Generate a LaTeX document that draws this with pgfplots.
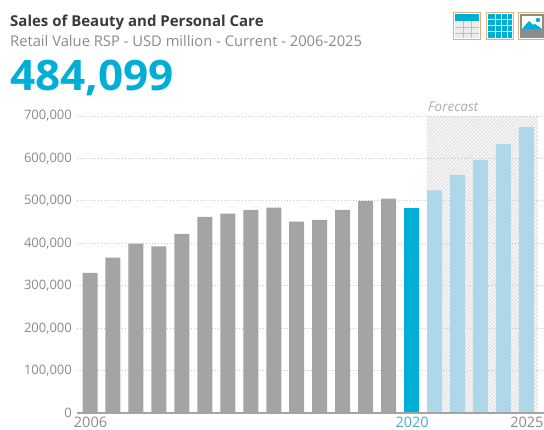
\documentclass[border=0pt]{standalone}
\usepackage{fontspec}
\usepackage{pgfplots}
\pgfplotsset{compat=1.18}
\usetikzlibrary{patterns.meta}
\setmainfont{Open Sans}
\definecolor{bargray}{HTML}{A2A4A6}
\definecolor{barcyan}{HTML}{00AED6}
\definecolor{barlight}{HTML}{AFD7EA}
\definecolor{labelgray}{HTML}{8A8A8A}
\definecolor{titledark}{HTML}{3A3A3C}
\definecolor{iconedge}{HTML}{E2AE7E}
\definecolor{hatchline}{HTML}{DEDEDE}
\definecolor{griddot}{HTML}{C4C4C4}
\definecolor{yearblue}{HTML}{4FA9CC}
\begin{document}
\begin{tikzpicture}[x=1pt,y=1pt]
\useasboundingbox (0,0) rectangle (544,430);
% heading block
\node[anchor=base west,inner sep=0,text=titledark,font=\fontsize{15}{15}\selectfont\bfseries] at (10,403) {Sales of Beauty and Personal Care};
\node[anchor=base west,inner sep=0,text=labelgray,font=\fontsize{14.75}{14.75}\selectfont] at (10,383) {Retail Value RSP - USD million - Current - 2006-2025};
\node[anchor=base west,inner sep=0,text=barcyan,font=\fontsize{42}{42}\selectfont\bfseries] at (10,339) {\scalebox{1.05}[1]{484,099}};
\node[anchor=base west,inner sep=0,text=labelgray!70,font=\fontsize{13.5}{13.5}\selectfont\itshape] at (428,318) {Forecast};
% view switcher icons
\begin{scope}[shift={(453,390)}]
  \fill[white] (0,0) rectangle (28,28);
  \fill[barcyan] (2,19) rectangle (26,26);
  \fill[gray!15] (2,2) rectangle (26,19);
  \foreach \y in {7,13} \draw[gray!50,line width=0.7pt] (2,\y) -- (26,\y);
  \foreach \x in {10,18} \draw[gray!50,line width=0.7pt] (\x,2) -- (\x,19);
  \draw[iconedge,line width=1.4pt] (0.7,0.7) rectangle (27.3,27.3);
\end{scope}
\begin{scope}[shift={(486,390)}]
  \fill[barcyan] (2,2) rectangle (26,26);
  \foreach \y in {8,14,20} \draw[white,line width=1pt] (2,\y) -- (26,\y);
  \foreach \x in {9,15,21} \draw[white,line width=1pt] (\x,2) -- (\x,26);
  \draw[iconedge,line width=1.4pt] (0.7,0.7) rectangle (27.3,27.3);
\end{scope}
\begin{scope}[shift={(518,390)}]
  \fill[gray!90] (2,2) rectangle (26,26);
  \fill[white] (4,11) rectangle (24,24);
  \fill[barcyan] (4,11) -- (11,19) -- (15,15) -- (17,16) -- (24,11) -- cycle;
  \fill[barcyan] (20,20) circle (2.2);
  \draw[iconedge,line width=1.4pt] (0.7,0.7) rectangle (27.3,27.3);
\end{scope}
\begin{axis}[
  at={(77pt,17pt)},anchor=south west,
  scale only axis,width=467pt,height=297pt,
  xmin=-0.566,xmax=19.765,ymin=0,ymax=700000,
  clip=false,
  axis line style={draw=none},
  tick style={draw=none},
  axis x line*=bottom,axis y line*=left,
  scaled y ticks=false,
  ytick={0,100000,200000,300000,400000,500000,600000,700000},
  yticklabels={0,{100,000},{200,000},{300,000},{400,000},{500,000},{600,000},{700,000}},
  xtick={0,14,19},
  xticklabels={2006,\textcolor{yearblue}{2020},2025},
  yticklabel style={text=labelgray,font=\fontsize{13}{13}\selectfont,inner sep=0pt,xshift=-5pt},
  xticklabel style={text=labelgray,font=\fontsize{14.5}{14.5}\selectfont,inner sep=0pt,yshift=0pt,xshift=0.5pt},
  ybar,bar width=15pt,
]
% forecast band and dotted gridlines sit behind the bars
\fill[white!95!gray] (axis cs:14.67,0) rectangle (axis cs:19.5,700000);
\fill[pattern={Lines[angle=45,distance=2.6pt,line width=0.9pt]},pattern color=hatchline] (axis cs:14.67,0) rectangle (axis cs:19.5,700000);
\pgfplotsinvokeforeach{100,200,300,400,500,600,700}{
  \draw[griddot,line width=0.8pt,dash pattern=on 1.2pt off 1.8pt] (axis cs:-0.566,#1000) -- (axis cs:19.765,#1000);
}
\addplot[fill=bargray,draw=none,bar shift=0pt] coordinates {
  (0,330000) (1,366000) (2,399000) (3,393000) (4,422000) (5,462000) (6,470000)
  (7,479000) (8,484000) (9,451000) (10,455000) (11,479000) (12,500000) (13,505000)};
\addplot[fill=barcyan,draw=none,bar shift=0pt] coordinates {(14,484099)};
\addplot[fill=barlight,draw=none,bar shift=0pt] coordinates {
  (15,525000) (16,561000) (17,596000) (18,634000) (19,674000)};
\draw[bargray,line width=1.6pt] (axis cs:-0.566,0) -- (axis cs:19.765,0);
\end{axis}
\end{tikzpicture}
\end{document}
